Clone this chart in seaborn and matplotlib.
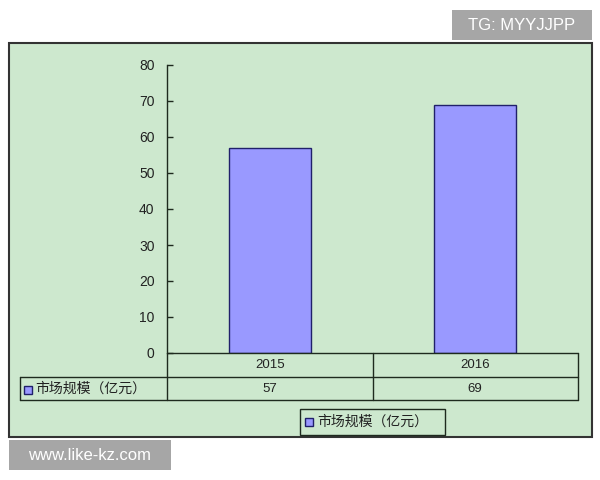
import matplotlib
matplotlib.use("Agg")
import matplotlib.pyplot as plt
from matplotlib.patches import Rectangle
from matplotlib.lines import Line2D
import seaborn as sns

# chart data
years = ["2015", "2016"]
market_size = [57, 69]
series_name = "市场规模（亿元）"
y_ticks = [0, 10, 20, 30, 40, 50, 60, 70, 80]

sns.set_theme(style="white")
plt.rcParams["font.family"] = ["Liberation Sans", "Noto Sans CJK SC", "DejaVu Sans"]

W, H = 600, 480
bg_green = "#CDE8CE"
bar_color = "#9999FF"
bar_edge = "#20206A"
line_col = "#1E2A1E"


def fx(x):
    return x / W


def fy(y):
    return 1 - y / H


fig = plt.figure(figsize=(6, 4.8), dpi=100, facecolor="white")

# green chart area with dark border (behind the axes)
fig.patches.append(Rectangle((fx(9), fy(437)), fx(592) - fx(9), fy(43) - fy(437),
                             transform=fig.transFigure, facecolor=bg_green,
                             edgecolor="#333333", linewidth=1.5, zorder=-5))

ax = fig.add_axes([fx(167), fy(353), fx(578) - fx(167), fy(65) - fy(353)])
ax.set_facecolor("none")
sns.barplot(x=years, y=market_size, color=bar_color, edgecolor=bar_edge,
            linewidth=1, width=0.4, saturation=1, ax=ax)
ax.set_xlim(-0.5, 1.5)
ax.set_ylim(0, 80)
ax.set_yticks(y_ticks)
ax.tick_params(axis="y", direction="in", length=4, width=1, color=line_col,
               labelsize=10, pad=9, labelcolor="#222222", left=True)
ax.set_xticks([])
ax.set_xlabel("")
ax.set_ylabel("")
for s in ["top", "right", "bottom"]:
    ax.spines[s].set_visible(False)
ax.spines["left"].set_color(line_col)
ax.spines["left"].set_linewidth(1)

# data table under the axis
def hline(x0, x1, y):
    fig.add_artist(Line2D([fx(x0), fx(x1)], [fy(y), fy(y)], transform=fig.transFigure,
                          color=line_col, linewidth=1))


def vline(x, y0, y1):
    fig.add_artist(Line2D([fx(x), fx(x)], [fy(y0), fy(y1)], transform=fig.transFigure,
                          color=line_col, linewidth=1))


hline(167, 578, 353)
hline(20, 578, 377)
hline(20, 578, 400)
vline(167, 353, 400)
vline(373, 353, 400)
vline(578, 353, 400)
vline(20, 377, 400)

col_centers = [270, 475]
for cx, yr, v in zip(col_centers, years, market_size):
    fig.text(fx(cx), fy(365), yr, ha="center", va="center", fontsize=9.5, color="#222222")
    fig.text(fx(cx), fy(389), str(v), ha="center", va="center", fontsize=9.5, color="#222222")

# series label in the table
fig.patches.append(Rectangle((fx(24), fy(394)), 8 / W, 8 / H, transform=fig.transFigure,
                             facecolor=bar_color, edgecolor=bar_edge, linewidth=1))
fig.text(fx(35), fy(389), series_name, ha="left", va="center", fontsize=10,
         color="#222222", family=["Noto Sans CJK SC", "DejaVu Sans"])

# legend box
fig.patches.append(Rectangle((fx(300), fy(435)), 145 / W, 26 / H, transform=fig.transFigure,
                             facecolor="none", edgecolor=line_col, linewidth=1))
fig.patches.append(Rectangle((fx(305), fy(426)), 8 / W, 8 / H, transform=fig.transFigure,
                             facecolor=bar_color, edgecolor=bar_edge, linewidth=1))
fig.text(fx(317), fy(422), series_name, ha="left", va="center", fontsize=10,
         color="#222222", family=["Noto Sans CJK SC", "DejaVu Sans"])

# watermarks
fig.patches.append(Rectangle((fx(452), fy(40)), 140 / W, 30 / H, transform=fig.transFigure,
                             facecolor="#A6A6A6", edgecolor="none"))
fig.text(fx(522), fy(25), "TG: MYYJJPP", ha="center", va="center", fontsize=12, color="white")
fig.patches.append(Rectangle((fx(9), fy(470)), 162 / W, 30 / H, transform=fig.transFigure,
                             facecolor="#A6A6A6", edgecolor="none"))
fig.text(fx(90), fy(455), "www.like-kz.com", ha="center", va="center", fontsize=12, color="white")

fig.savefig("out.png", dpi=100, facecolor="white")
